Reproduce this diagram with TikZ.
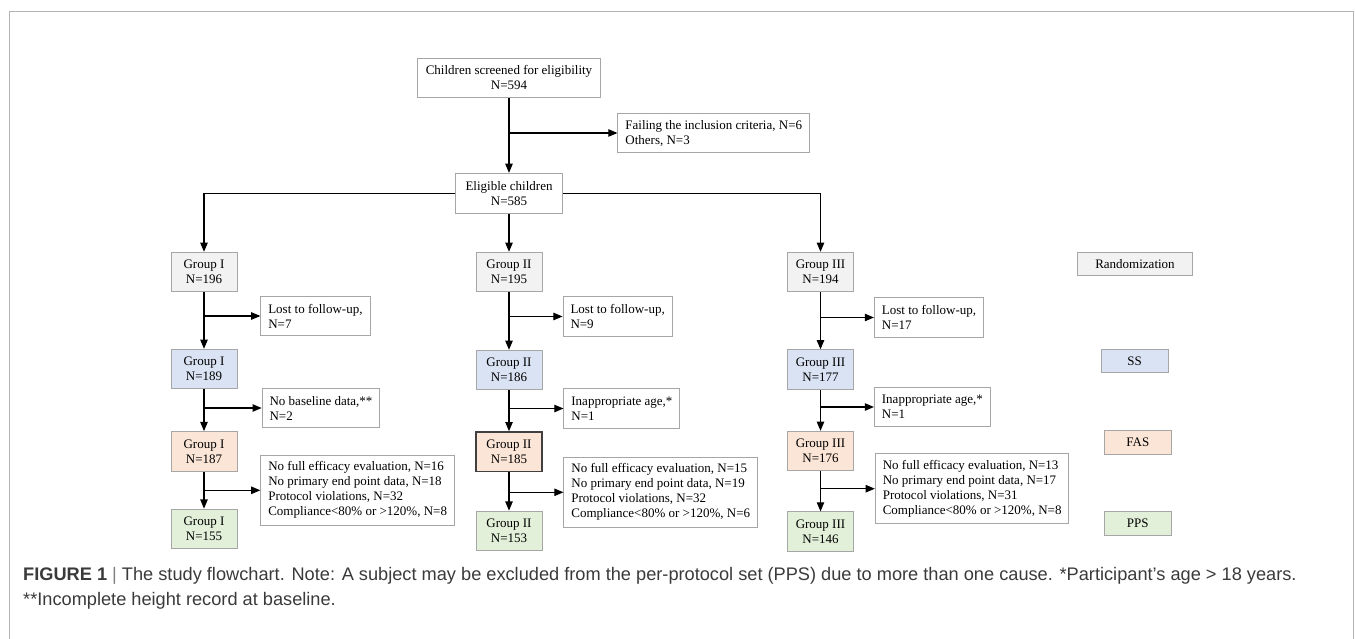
\documentclass[tikz,border=0pt]{standalone}
\usepackage{fontspec}
\setmainfont{Liberation Serif}
\setsansfont{Liberation Sans}
\usepackage{tikz}
\usetikzlibrary{arrows}
\definecolor{boxgray}{HTML}{A6A6A6}
\definecolor{framegray}{HTML}{B4B4B4}
\definecolor{darkedge}{HTML}{404040}
\definecolor{randfill}{HTML}{F2F2F2}
\definecolor{ssfill}{HTML}{DAE3F3}
\definecolor{fasfill}{HTML}{FBE5D6}
\definecolor{ppsfill}{HTML}{E2F0D9}
\definecolor{captext}{HTML}{3A3A3A}
\newcommand{\chartsize}{\fontsize{13}{15}\selectfont}
\newcommand{\capsize}{\fontsize{18.2}{25}\selectfont}

\begin{document}
\begin{tikzpicture}[>=triangle 45, x=1pt, y=-1pt,
	grp/.style={draw=boxgray, line width=1pt, minimum width=66pt, minimum height=39.5pt, inner sep=0pt, align=center, font=\chartsize},
	rand/.style={grp, fill=randfill},
	ss/.style={grp, fill=ssfill},
	fas/.style={grp, fill=fasfill},
	pps/.style={grp, fill=ppsfill},
	legend/.style={minimum height=23.5pt},
	excl/.style={draw=boxgray, line width=1pt, fill=white, anchor=west, inner xsep=7.5pt, inner ysep=0pt, minimum height=39.5pt, align=left, font=\chartsize},
	link/.style={->, line width=1.1pt}]
								\useasboundingbox (0,0) rectangle (1355,639);
								\draw[framegray, line width=1.2pt] (9.8,639) -- (9.8,11.7) -- (1353.5,11.7) -- (1353.5,639);

								\node[grp, minimum width=183pt] (screen) at (509,77.8) {Children screened for eligibility\\N=594};
								\node[excl] (fail) at (617.4,133) {Failing the inclusion criteria, N=6\\Others, N=3};
								\node[grp, minimum width=107pt, minimum height=40pt] (elig) at (509,193.3) {Eligible children\\N=585};

								\node[rand] (r1) at (204,272) {Group I\\N=196}; \node[rand] (r2) at (509,272) {Group II\\N=195}; \node[rand] (r3) at (820.5,272) {Group III\\N=194};
								\node[excl] (l1) at (260.3,316) {Lost to follow-up,\\N=7}; \node[excl] (l2) at (562.5,316.5) {Lost to follow-up,\\N=9}; \node[excl] (l3) at (873.9,317.5) {Lost to follow-up,\\N=17};

								\node[ss] (s1) at (204,369) {Group I\\N=189}; \node[ss] (s2) at (509,370) {Group II\\N=186}; \node[ss] (s3) at (820.5,369.5) {Group III\\N=177};
								\node[excl] (b1) at (261.6,408) {No baseline data,**\\N=2}; \node[excl] (b2) at (563.4,408.5) {Inappropriate age,*\\N=1}; \node[excl] (b3) at (873.9,407) {Inappropriate age,*\\N=1};

								\node[fas] (f1) at (204,451.3) {Group I\\N=187}; \node[fas, draw=darkedge, line width=1.6pt] (f2) at (509,451.7) {Group II\\N=185}; \node[fas] (f3) at (820.5,451) {Group III\\N=176};
								\node[excl, minimum height=70.5pt] (e1) at (260.3,490.3) {No full efficacy evaluation, N=16\\No primary end point data, N=18\\Protocol violations, N=32\\Compliance<80\% or >120\%, N=8};
								\node[excl, minimum height=70.5pt] (e2) at (563.4,492.3) {No full efficacy evaluation, N=15\\No primary end point data, N=19\\Protocol violations, N=32\\Compliance<80\% or >120\%, N=6};
								\node[excl, minimum height=70.5pt] (e3) at (874.8,488.7) {No full efficacy evaluation, N=13\\No primary end point data, N=17\\Protocol violations, N=31\\Compliance<80\% or >120\%, N=8};

								\node[pps] (p1) at (204,528.8) {Group I\\N=155}; \node[pps] (p2) at (509,530.8) {Group II\\N=153}; \node[pps] (p3) at (820.5,531.6) {Group III\\N=146};

								\node[rand, legend, minimum width=114.7pt] (lrand) at (1135,264) {Randomization};
								\node[ss, legend, minimum width=67.4pt] (lss) at (1134.7,361) {SS};
								\node[fas, legend, minimum width=67.6pt] (lfas) at (1137.8,442.3) {FAS};
								\node[pps, legend, minimum width=67.6pt] (lpps) at (1137.8,523.7) {PPS};

								\draw[link] (screen) -- (elig); \draw[link] (screen |- fail.west) -- (fail.west);
								\draw[link] (elig.west) -| (r1); \draw[link] (elig) -- (r2); \draw[link] (elig.east) -| (r3);
								\foreach \i in {1,2,3} {
									\draw[link] (r\i) -- (s\i); \draw[link] (r\i |- l\i.west) -- (l\i.west);
									\draw[link] (s\i) -- (f\i); \draw[link] (s\i |- b\i.west) -- (b\i.west);
									\draw[link] (f\i) -- (p\i); \draw[link] (f\i |- e\i.west) -- (e\i.west);
								}

								\node[anchor=base west, align=left, font=\sffamily\capsize, text=captext, inner sep=0pt] (cap) at (23,605) {\textbf{FIGURE 1} {\color{gray}|} The study flowchart. Note: A subject may be excluded from the per-protocol set (PPS) due to more than one cause. *Participant’s age > 18 years.\\**Incomplete height record at baseline.};
\end{tikzpicture}
\end{document}
